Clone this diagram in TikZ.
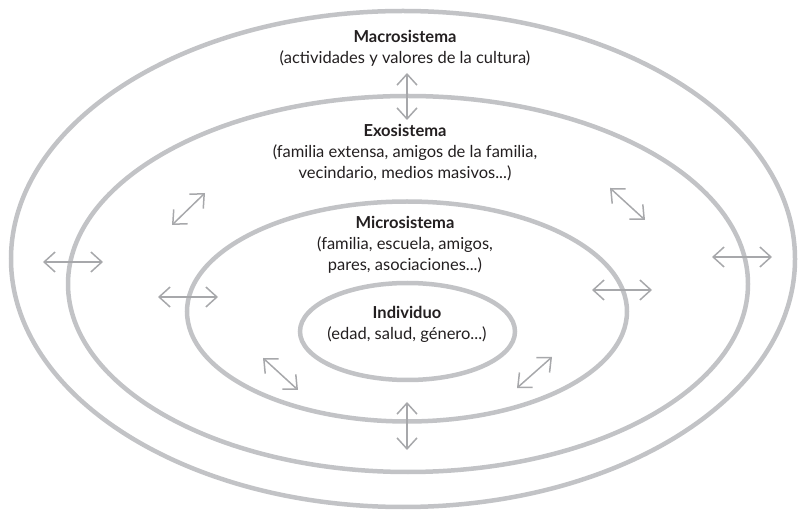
\documentclass[tikz,border=0pt]{standalone}
\usepackage{fontspec}
\setmainfont{Lato}
\usepackage{xcolor}
\usetikzlibrary{arrows.meta}
\definecolor{anillo}{HTML}{C2C3C6}
\definecolor{flechagris}{HTML}{A7A8AB}
\definecolor{tinta}{HTML}{231F20}
\tikzset{
  ring/.style={draw=anillo, line width=4.5pt},
  flecha/.style={draw=flechagris, line width=1.5pt,
    {Straight Barb[length=11pt,width=20pt]}-{Straight Barb[length=11pt,width=20pt]}},
  rotulo/.style={align=center, text=tinta, inner sep=0pt,
    font=\fontsize{16.5}{21}\selectfont}
}
\begin{document}
\begin{tikzpicture}[x=1pt, y=-1pt]
		\useasboundingbox (0, 0) rectangle (798, 510);
		% anillos
		\draw [ring] (403, 259) ellipse [x radius=392, y radius=248];
		\draw [ring] (408, 284) ellipse [x radius=340, y radius=188];
		\draw [ring] (407, 311.5) ellipse [x radius=220, y radius=110];
		\draw [ring] (407.5, 331.5) ellipse [x radius=107.5, y radius=48.5];
		% rotulos
		\node [rotulo] (macro) at (405, 48.5) {\textbf{Macrosistema}\\(actividades y valores de la cultura)};
		\node [rotulo] (exo) at (405, 152.5) {\textbf{Exosistema}\\(familia extensa, amigos de la familia,\\vecindario, medios masivos...)};
		\node [rotulo] (micro) at (405, 245) {\textbf{Microsistema}\\(familia, escuela, amigos,\\pares, asociaciones...)};
		\node [rotulo] (indiv) at (407, 324) {\textbf{Individuo}\\(edad, salud, género...)};
		% flechas
		\foreach \nm/\ax/\ay/\bx/\by in {
			arriba/407/73/407/120, abajo/407/402/407/450,
			izqext/43/262/103/262, derext/712/257/772/257,
			izqint/158/297/218/297, derint/592/290/652/290,
			diagA/172/225/205/193, diagB/610/188/645/220,
			diagC/263/358/298/390, diagD/517/388/552/357} {
			\coordinate (\nm-a) at (\ax, \ay);
			\coordinate (\nm-b) at (\bx, \by);
			\draw [flecha] (\nm-a) -- (\nm-b);
		}
	\end{tikzpicture}
\end{document}
